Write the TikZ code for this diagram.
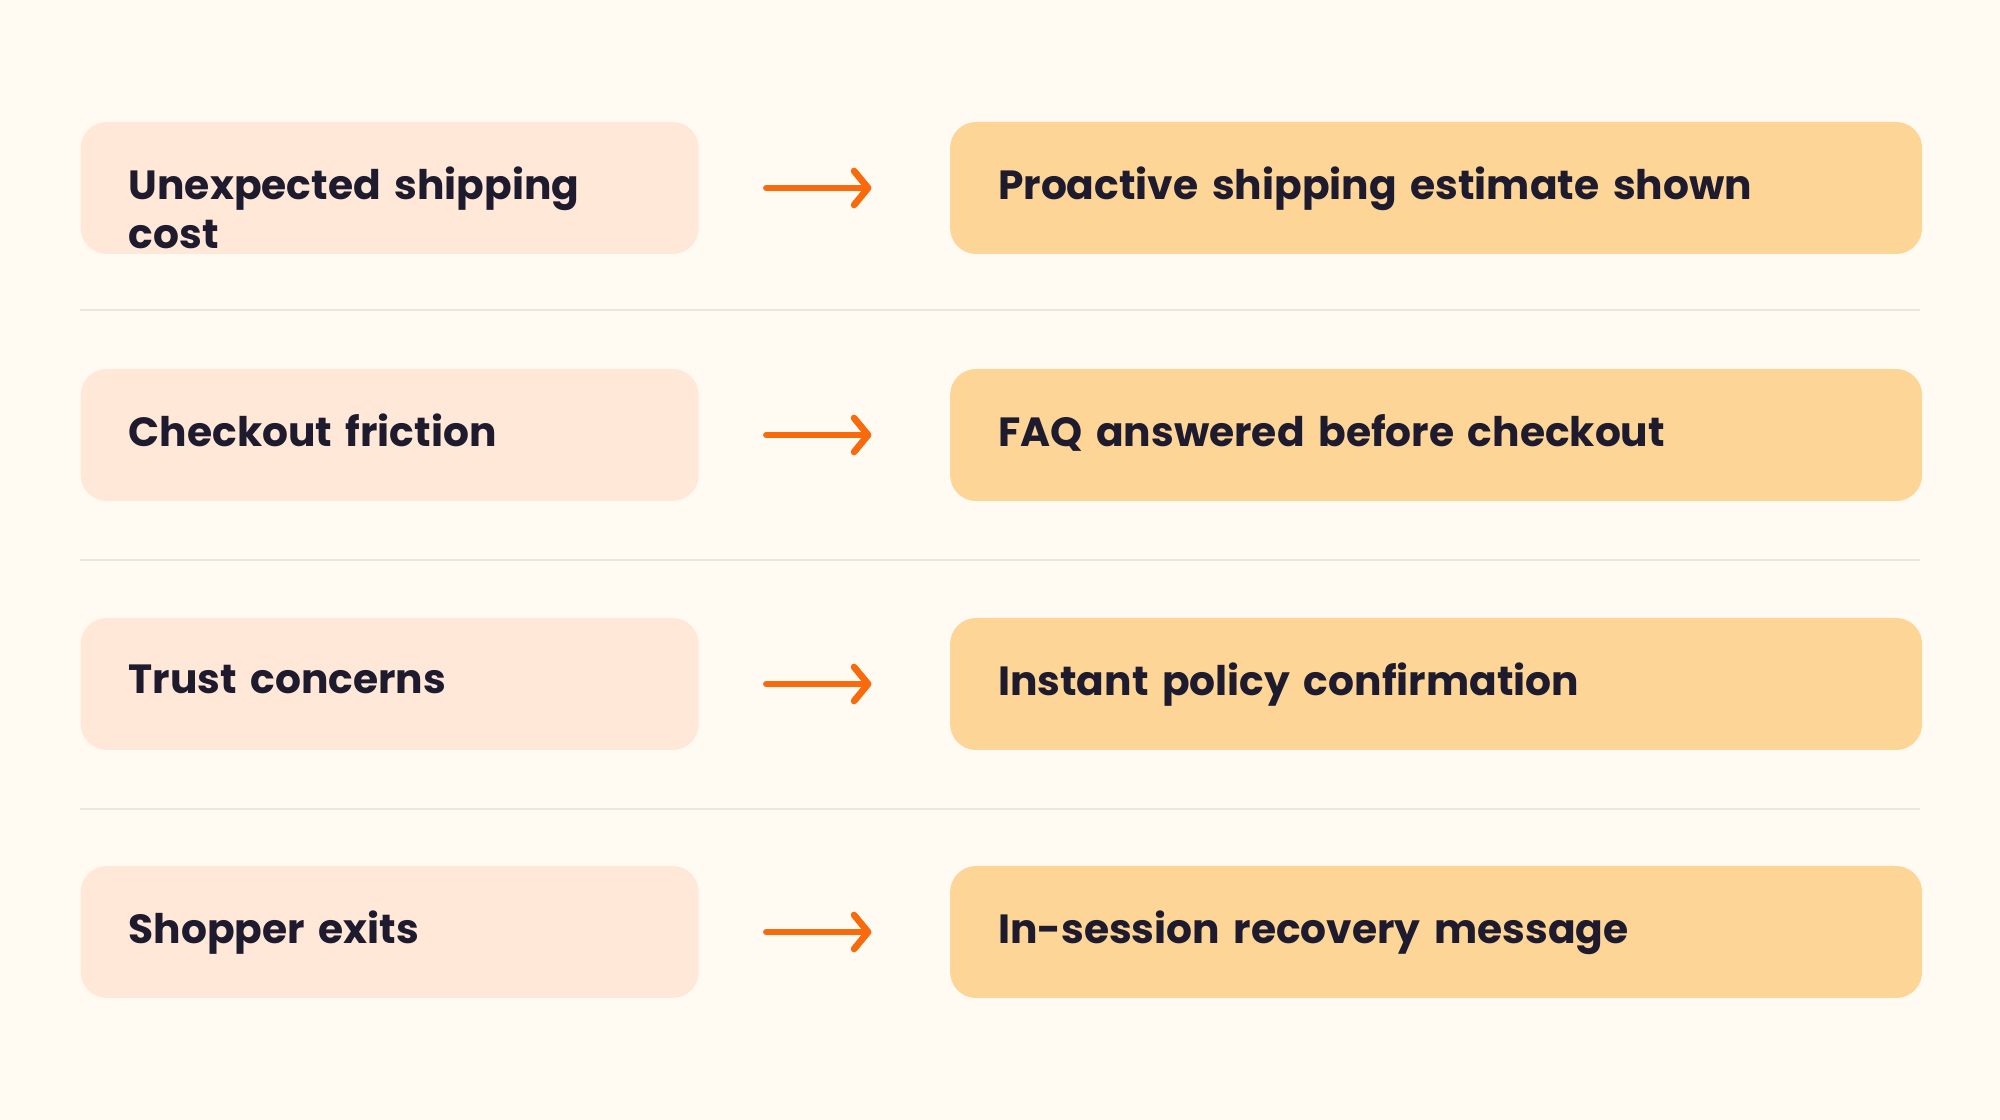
\documentclass[tikz,border=0pt]{standalone}
\usepackage{fontspec}
\setmainfont{Poppins}
\usetikzlibrary{positioning, arrows.meta}
\definecolor{bgcol}{HTML}{FFFBF3}
\definecolor{causecol}{HTML}{FFE8D8}
\definecolor{fixcol}{HTML}{FDD597}
\definecolor{arrowcol}{HTML}{F86A0C}
\definecolor{rulecol}{HTML}{ECE7DE}
\definecolor{textcol}{HTML}{1E1B2E}
\tikzset{
    box/.style={rounded corners=0.26cm, minimum height=1.32cm, inner xsep=0.48cm,
        text=textcol, font=\fontsize{11.6}{14}\selectfont\bfseries, anchor=west, text depth=0.5ex}, % common box look
    cause/.style={box, fill=causecol, minimum width=6.18cm, text width=6.18cm-0.96cm},
    fix/.style={box, fill=fixcol, minimum width=9.72cm, text width=9.72cm-0.96cm},
    link/.style={arrowcol, line width=1.9pt, line cap=round, -{Straight Barb[length=0.14cm, width=0.34cm, line cap=round, line join=round]},
        shorten <=0.67cm, shorten >=0.78cm}, % the orange arrows
    sep/.style={rulecol, line width=0.8pt},
    node distance=2.5cm,
}
\begin{document}
\begin{tikzpicture}
\fill[bgcol] (0,0) rectangle (20,11.2);
\useasboundingbox (0,0) rectangle (20,11.2);
\foreach \i/\y/\a/\b in {1/9.32/Unexpected shipping cost/Proactive shipping estimate shown,
                         2/6.85/Checkout friction/FAQ answered before checkout,
                         3/4.36/Trust concerns/Instant policy confirmation,
                         4/1.88/Shopper exits/In-session recovery message}{
    \node[cause] (c\i) at (0.8,\y) {\a};
    \node[fix, right=of c\i.east, anchor=west] (f\i) {\b};
    \draw[link] (c\i) -- (f\i);
}
\foreach \y in {8.10,5.60,3.11}
    \draw[sep] (0.8,\y) -- (19.2,\y);
\end{tikzpicture}
\end{document}
